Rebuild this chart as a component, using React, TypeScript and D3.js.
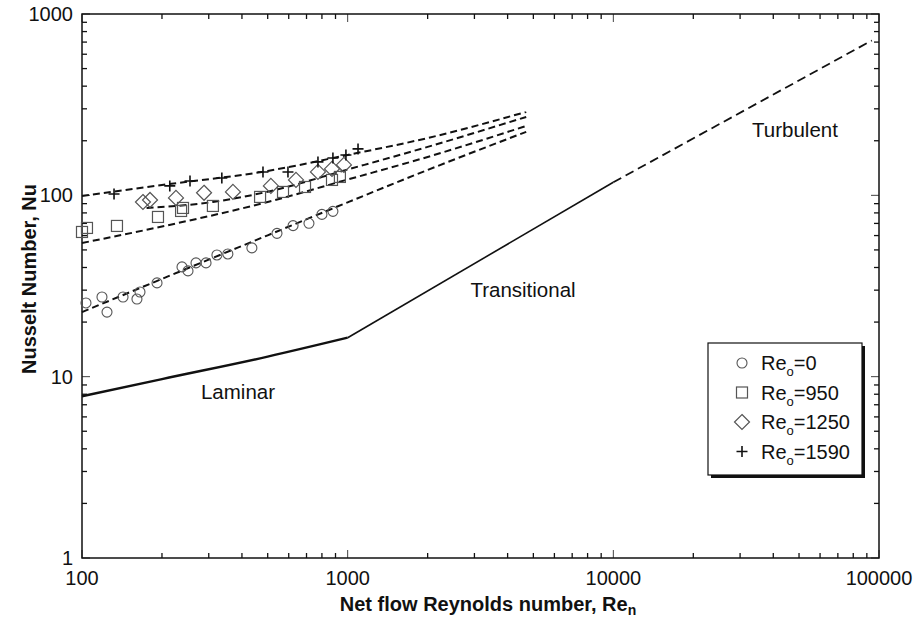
import React, { useEffect, useRef } from "react";
import * as d3 from "d3";

const circleRe = [103.5, 118.9, 124.2, 142.7, 161, 165.3, 191.6, 237.9, 250.6, 268.6, 293, 322, 354, 436, 542, 623, 715, 800, 880];
const circleNu = [25.5, 27.5, 22.7, 27.5, 26.8, 29.3, 32.9, 40.3, 38.3, 42.4, 42.4, 46.9, 47.5, 51.3, 61.7, 68.1, 70.1, 78.5, 81.6];

const squareRe = [100, 104.4, 135.4, 193.2, 236, 240, 311, 468, 571, 691, 873, 935];
const squareNu = [62.8, 66.1, 67.8, 76, 82, 85.2, 87.4, 98, 104.4, 111.2, 121.6, 126.3];

const diamondRe = [169.6, 180.3, 225.8, 288, 370, 514, 639, 773, 873, 968];
const diamondNu = [91.9, 94.3, 96.8, 103.3, 104.4, 112.7, 121.6, 134.6, 139.8, 147.2];

const plusRe = [132, 214, 255, 336, 480, 596, 773, 880, 985, 1094];
const plusNu = [101.8, 112.7, 120, 124.7, 134.6, 134.6, 152.9, 160.8, 167, 180.3];

// correlation curves (dashed)
const fit0Re = [100, 200, 500, 1000, 2000, 4700];
const fit0Nu = [22.7, 34.6, 60.2, 91.5, 138, 224];
const fit950Re = [100, 200, 500, 1000, 2000, 4700];
const fit950Nu = [54.6, 67.3, 91.9, 122.2, 162.8, 241.4];
const fit1250Re = [175, 311, 500, 1000, 2000, 4700];
const fit1250Nu = [85.2, 91.9, 104.7, 138.8, 185, 270.6];
const fit1590Re = [100, 200, 500, 1000, 2000, 4700];
const fit1590Nu = [99.2, 114, 136.3, 167, 207, 288.4];

// steady flow regimes
const laminarRe = [100, 200, 500, 1000];
const laminarNu = [7.8, 9.7, 12.9, 16.4];
const transRe = [1000, 10000];
const transNu = [16.4, 118];
const turbRe = [10000, 94000];
const turbNu = [118, 715];

const xTicks = [100, 1000, 10000, 100000];
const yTicks = [1, 10, 100, 1000];
const legendLabels = ["=0", "=950", "=1250", "=1590"];

const W = 919;
const H = 627;

const App = () => {
    const svgRef = useRef<SVGSVGElement>(null);

    useEffect(() => {
        const svg = d3.select(svgRef.current);
        svg.selectAll("*").remove();

        const left = 82, right = 879, top = 14, bottom = 558;
        const x = d3.scaleLog().domain([100, 100000]).range([left, right]);
        const y = d3.scaleLog().domain([1, 1000]).range([bottom, top]);
        const font = "'Liberation Sans', Arial, Helvetica, sans-serif";

        const zip = (a: number[], b: number[]) => a.map((v, i) => [v, b[i]] as [number, number]);

        const txt = (tx: number, ty: number, size: number, anchor: string, s: string, bold = false) =>
            svg.append("text")
                .attr("x", tx).attr("y", ty)
                .attr("font-family", font).attr("font-size", size)
                .attr("font-weight", bold ? "bold" : "normal")
                .attr("text-anchor", anchor).attr("fill", "#111")
                .text(s);

        // frame
        svg.append("rect")
            .attr("x", left).attr("y", top)
            .attr("width", right - left).attr("height", bottom - top)
            .attr("fill", "none").attr("stroke", "#111").attr("stroke-width", 1.5);

        // ticks, inward on all four sides
        const minorX: number[] = [];
        for (let d = 100; d < 100000; d *= 10) for (let k = 1; k <= 9; k++) minorX.push(d * k);
        minorX.push(100000);
        const minorY: number[] = [];
        for (let d = 1; d < 1000; d *= 10) for (let k = 1; k <= 9; k++) minorY.push(d * k);
        minorY.push(1000);

        const tk = svg.append("g").attr("stroke", "#111");
        minorX.forEach((v) => {
            const major = xTicks.includes(v);
            const len = major ? 8 : 5;
            tk.append("line").attr("x1", x(v)).attr("x2", x(v)).attr("y1", bottom).attr("y2", bottom - len)
                .attr("stroke-width", major ? 0.8 : 1.3);
            tk.append("line").attr("x1", x(v)).attr("x2", x(v)).attr("y1", top).attr("y2", top + len)
                .attr("stroke-width", major ? 0.8 : 1.3);
        });
        minorY.forEach((v) => {
            const major = yTicks.includes(v);
            const len = major ? 8 : 5;
            tk.append("line").attr("y1", y(v)).attr("y2", y(v)).attr("x1", left).attr("x2", left + len)
                .attr("stroke-width", major ? 0.8 : 1.3);
            tk.append("line").attr("y1", y(v)).attr("y2", y(v)).attr("x1", right).attr("x2", right - len)
                .attr("stroke-width", major ? 0.8 : 1.3);
        });

        // tick labels
        const tickSize = 20;
        xTicks.forEach((d) => txt(x(d), bottom + 27, tickSize, "middle", String(d)));
        yTicks.forEach((d) => txt(left - 9, y(d) + 7, tickSize, "end", String(d)));

        // axis titles
        const xt = txt(488, 611, 20, "middle", "", true);
        xt.append("tspan").text("Net flow Reynolds number, Re");
        xt.append("tspan").attr("font-size", 14).attr("dy", 4).text("n");

        svg.append("text")
            .attr("transform", "translate(36,279) rotate(-90)")
            .attr("text-anchor", "middle").attr("font-family", font)
            .attr("font-size", 20).attr("font-weight", "bold").attr("fill", "#111")
            .text("Nusselt Number, Nu");

        const line = d3.line<[number, number]>()
            .x((d) => x(d[0])).y((d) => y(d[1]))
            .curve(d3.curveMonotoneX);

        // regime lines
        svg.append("path").datum(zip(laminarRe, laminarNu)).attr("d", line)
            .attr("fill", "none").attr("stroke", "#111").attr("stroke-width", 2.4);
        svg.append("path").datum(zip(transRe, transNu)).attr("d", line)
            .attr("fill", "none").attr("stroke", "#111").attr("stroke-width", 1.6);
        svg.append("path").datum(zip(turbRe, turbNu)).attr("d", line)
            .attr("fill", "none").attr("stroke", "#111").attr("stroke-width", 1.8)
            .attr("stroke-dasharray", "9,5");

        // correlation curves
        [[fit0Re, fit0Nu], [fit950Re, fit950Nu], [fit1250Re, fit1250Nu], [fit1590Re, fit1590Nu]].forEach(([re, nu]) => {
            svg.append("path").datum(zip(re, nu)).attr("d", line)
                .attr("fill", "none").attr("stroke", "#111").attr("stroke-width", 2)
                .attr("stroke-dasharray", "7,4");
        });

        // markers
        const grey = "#555";
        const drawCircle = (g: any, cx: number, cy: number) =>
            g.append("circle").attr("cx", cx).attr("cy", cy).attr("r", 5)
                .attr("fill", "none").attr("stroke", grey).attr("stroke-width", 1.1);
        const drawSquare = (g: any, cx: number, cy: number) =>
            g.append("rect").attr("x", cx - 5.5).attr("y", cy - 5.5).attr("width", 11).attr("height", 11)
                .attr("fill", "none").attr("stroke", grey).attr("stroke-width", 1.2);
        const drawDiamond = (g: any, cx: number, cy: number) =>
            g.append("path").attr("d", `M${cx},${cy - 7.5}L${cx + 7.5},${cy}L${cx},${cy + 7.5}L${cx - 7.5},${cy}Z`)
                .attr("fill", "none").attr("stroke", grey).attr("stroke-width", 1.2);
        const drawPlus = (g: any, cx: number, cy: number) =>
            g.append("path").attr("d", `M${cx - 5.5},${cy}H${cx + 5.5}M${cx},${cy - 5.5}V${cy + 5.5}`)
                .attr("fill", "none").attr("stroke", "#111").attr("stroke-width", 1.6);

        const mk = svg.append("g");
        circleRe.forEach((r, i) => drawCircle(mk, x(r), y(circleNu[i])));
        squareRe.forEach((r, i) => drawSquare(mk, x(r), y(squareNu[i])));
        diamondRe.forEach((r, i) => drawDiamond(mk, x(r), y(diamondNu[i])));
        plusRe.forEach((r, i) => drawPlus(mk, x(r), y(plusNu[i])));

        // regime labels
        txt(238, 399, 20.5, "middle", "Laminar");
        txt(523, 297, 20.5, "middle", "Transitional");
        txt(795, 137, 20.5, "middle", "Turbulent");

        // legend
        const lx = 708, ly = 343, lw = 154, lh = 132;
        svg.append("rect").attr("x", lx + 3).attr("y", ly + 3).attr("width", lw).attr("height", lh).attr("fill", "#111");
        svg.append("rect").attr("x", lx).attr("y", ly).attr("width", lw).attr("height", lh)
            .attr("fill", "#fff").attr("stroke", "#111").attr("stroke-width", 1.2);
        const drawers = [drawCircle, drawSquare, drawDiamond, drawPlus];
        legendLabels.forEach((s, i) => {
            const ry = 363 + i * 29.5;
            drawers[i](svg, 742, ry);
            const t = txt(761, ry + 7, 20, "start", "");
            t.append("tspan").text("Re");
            t.append("tspan").attr("font-size", 13).attr("dy", 6).text("o");
            t.append("tspan").attr("dy", -6).text(s);
        });
    }, []);

    return (
        <div style={{ position: "absolute", left: 0, top: 0 }}>
            <svg ref={svgRef} width={W} height={H} style={{ display: "block", background: "#fff" }}></svg>
        </div>
    );
};

export default App;
